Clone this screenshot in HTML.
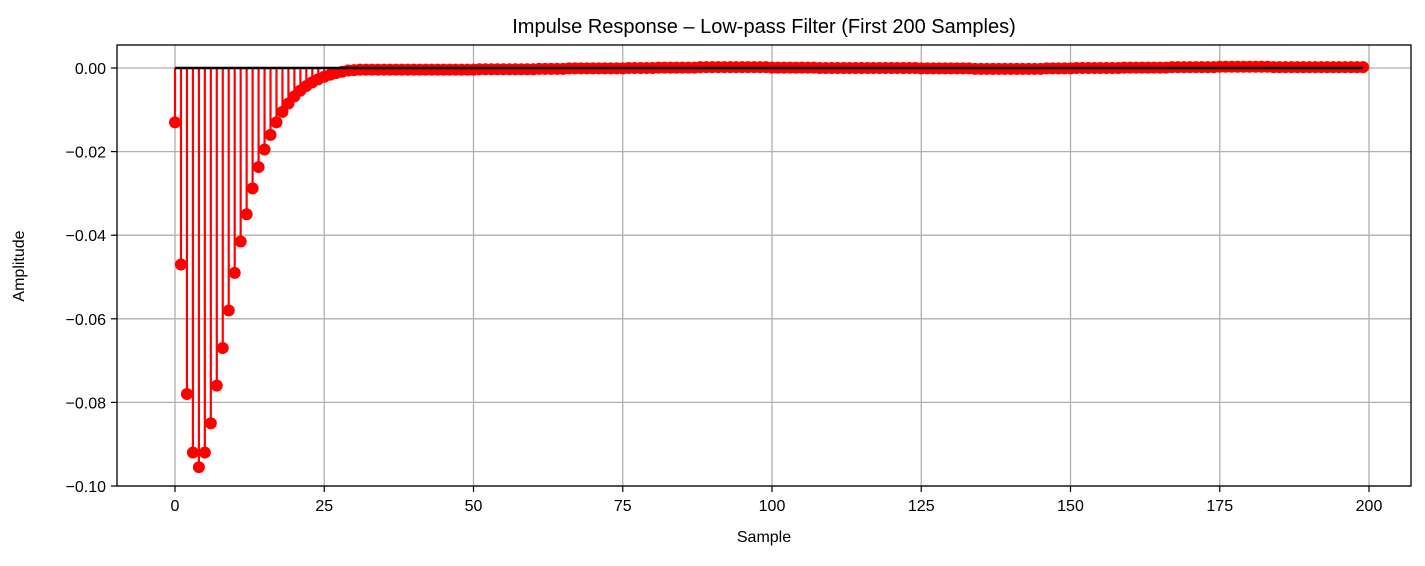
<!DOCTYPE html>
<html><head><meta charset="utf-8"><style>
body{margin:0;background:#fff;}
svg text{font-family:"Liberation Sans","DejaVu Sans",sans-serif;fill:#000;}
</style></head><body>
<svg id="chart" width="1425" height="561" xmlns="http://www.w3.org/2000/svg">
<text x="764" y="33" font-size="20" text-anchor="middle">Impulse Response – Low-pass Filter (First 200 Samples)</text>
<g id="grid"></g><g id="stems"></g><g id="ticks"></g>
<text x="764" y="542" font-size="16" text-anchor="middle">Sample</text>
<text x="24" y="266" font-size="16" text-anchor="middle" transform="rotate(-90 24 266)">Amplitude</text>
<rect x="117" y="45" width="1294" height="441" fill="none" stroke="#000" stroke-width="1.3"/>
</svg>
<script>
const xTicks=[0,25,50,75,100,125,150,175,200];
const yTicks=[0,-0.02,-0.04,-0.06,-0.08,-0.10];
const yTickLabels=["0.00","−0.02","−0.04","−0.06","−0.08","−0.10"];
const amplitudes=[
-0.013,-0.047,-0.078,-0.092,-0.0955,-0.092,-0.085,-0.076,-0.067,-0.058,
-0.049,-0.0415,-0.035,-0.0288,-0.0237,-0.0195,-0.016,-0.013,-0.0105,-0.0085,
-0.0068,-0.0054,-0.0043,-0.0034,-0.0027,-0.0021,-0.0016,-0.0012,-0.0009,-0.0006,
-0.0005,-0.0004,-0.0004,-0.0004,-0.0004,-0.0004,-0.0004,-0.0004,-0.0004,-0.0004,
-0.0004,-0.0004,-0.0004,-0.0004,-0.0004,-0.0004,-0.0004,-0.0004,-0.0004,-0.0004,
-0.0004,-0.0003,-0.0003,-0.0003,-0.0003,-0.0003,-0.0003,-0.0003,-0.0003,-0.0003,
-0.0003,-0.0002,-0.0002,-0.0002,-0.0002,-0.0002,-0.0001,-0.0001,-0.0001,-0.0001,
-0.0001,-0.0001,-0.0001,-0.0001,-0.0001,-0.0001,0.0,0.0,0.0,0.0,
0.0,0.0001,0.0001,0.0001,0.0001,0.0001,0.0001,0.0001,0.0002,0.0002,
0.0002,0.0002,0.0002,0.0002,0.0002,0.0002,0.0002,0.0002,0.0002,0.0002,
0.0001,0.0001,0.0001,0.0001,0.0001,0.0001,0.0001,0.0001,0.0,0.0,
0.0,0.0,0.0,0.0,0.0,0.0,0.0,0.0,0.0,0.0,
0.0,0.0,0.0,0.0,0.0,-0.0001,-0.0001,-0.0001,-0.0001,-0.0001,
-0.0001,-0.0001,-0.0001,-0.0001,-0.0002,-0.0002,-0.0002,-0.0002,-0.0002,-0.0002,
-0.0002,-0.0002,-0.0002,-0.0002,-0.0002,-0.0002,-0.0001,-0.0001,-0.0001,-0.0001,
-0.0001,0.0,0.0,0.0,0.0,0.0,0.0,0.0,0.0,0.0001,
0.0001,0.0001,0.0001,0.0001,0.0001,0.0001,0.0001,0.0002,0.0002,0.0002,
0.0002,0.0002,0.0002,0.0002,0.0002,0.0003,0.0003,0.0003,0.0003,0.0003,
0.0003,0.0003,0.0003,0.0003,0.0002,0.0002,0.0002,0.0002,0.0002,0.0002,
0.0002,0.0002,0.0002,0.0002,0.0002,0.0002,0.0002,0.0002,0.0002,0.0002
];
const NS="http://www.w3.org/2000/svg";
const x=v=>175+v*(1369-175)/200;
const y=v=>68+(-v)*(486-68)/0.1;
function mk(t,a,p){const e=document.createElementNS(NS,t);for(const k in a)e.setAttribute(k,a[k]);p.appendChild(e);return e;}
const grid=document.getElementById('grid'),ticks=document.getElementById('ticks'),stems=document.getElementById('stems');
xTicks.forEach(v=>{
 const g=mk('line',{x1:x(v),x2:x(v),y1:45,y2:486,stroke:'#b0b0b0','stroke-width':1.3},grid);
 
 
 mk('line',{x1:x(v),x2:x(v),y1:486,y2:492,stroke:'#000','stroke-width':1.2},ticks);
 const t=mk('text',{x:x(v),y:511,'font-size':16,'text-anchor':'middle'},ticks);t.textContent=v;
 
 
});
yTicks.forEach((v,i)=>{
 const g=mk('line',{x1:117,x2:1411,y1:y(v),y2:y(v),stroke:'#b0b0b0','stroke-width':1.3},grid);
 
 
 mk('line',{x1:111,x2:117,y1:y(v),y2:y(v),stroke:'#000','stroke-width':1.2},ticks);
 const t=mk('text',{x:106,y:y(v)+6,'font-size':16,'text-anchor':'end'},ticks);t.textContent=yTickLabels[i];
 
 
});
amplitudes.forEach((v,i)=>{
 const s=mk('line',{x1:x(i),x2:x(i),y1:y(0),y2:y(v),stroke:'#f00','stroke-width':2.2},stems);
 
 
});
amplitudes.forEach((v,i)=>{
 const c=mk('circle',{cx:x(i),cy:y(v),r:6,fill:'#f00'},stems);
 
 
});
const base=mk('line',{x1:x(0),x2:x(amplitudes.length-1),y1:y(0),y2:y(0),stroke:'#000','stroke-width':2.5},stems);


</script>
</body></html>
